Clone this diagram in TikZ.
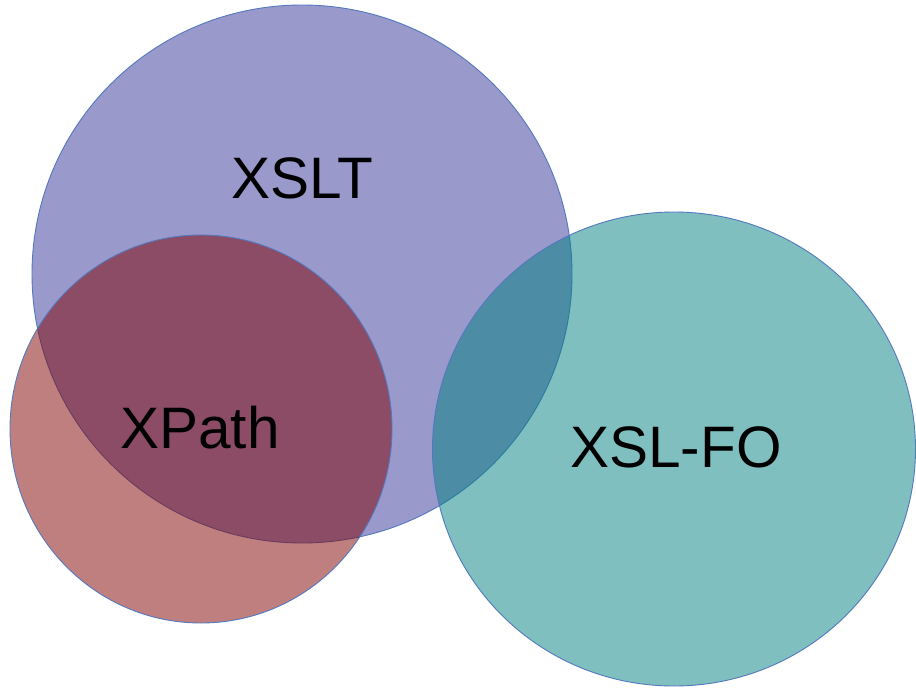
\documentclass[tikz,border=0pt]{standalone}
\usepackage{fontspec}
\setmainfont{Liberation Sans}
\begin{document}
\begin{tikzpicture}[x=1pt,y=-1pt,
  setcircle/.style={draw=edgeblue, line width=0.9pt, fill opacity=0.5},
  setlabel/.style={font=\fontsize{58.5}{64}\selectfont, anchor=base, inner sep=0pt}]
  \definecolor{edgeblue}{RGB}{84,120,190}
  \definecolor{xsltfill}{RGB}{51,51,153}
  \definecolor{xpathfill}{RGB}{128,0,0}
  \definecolor{xslfofill}{RGB}{0,128,128}
  \useasboundingbox (0,0) rectangle (916,688);
  % the three overlapping sets
  \draw[setcircle, fill=xsltfill] (302,274) ellipse [x radius=270, y radius=269];
  \draw[setcircle, fill=xpathfill] (201,429) ellipse [x radius=191, y radius=194];
  \draw[setcircle, fill=xslfofill] (674,449) ellipse [x radius=241.5, y radius=237];
  % set names
  \node[setlabel] (xslt) at (302,198) {XSLT};
  \node[setlabel] (xpath) at (200,448) {XPath};
  \node[setlabel] (xslfo) at (676,467) {XSL-FO};
\end{tikzpicture}
\end{document}
